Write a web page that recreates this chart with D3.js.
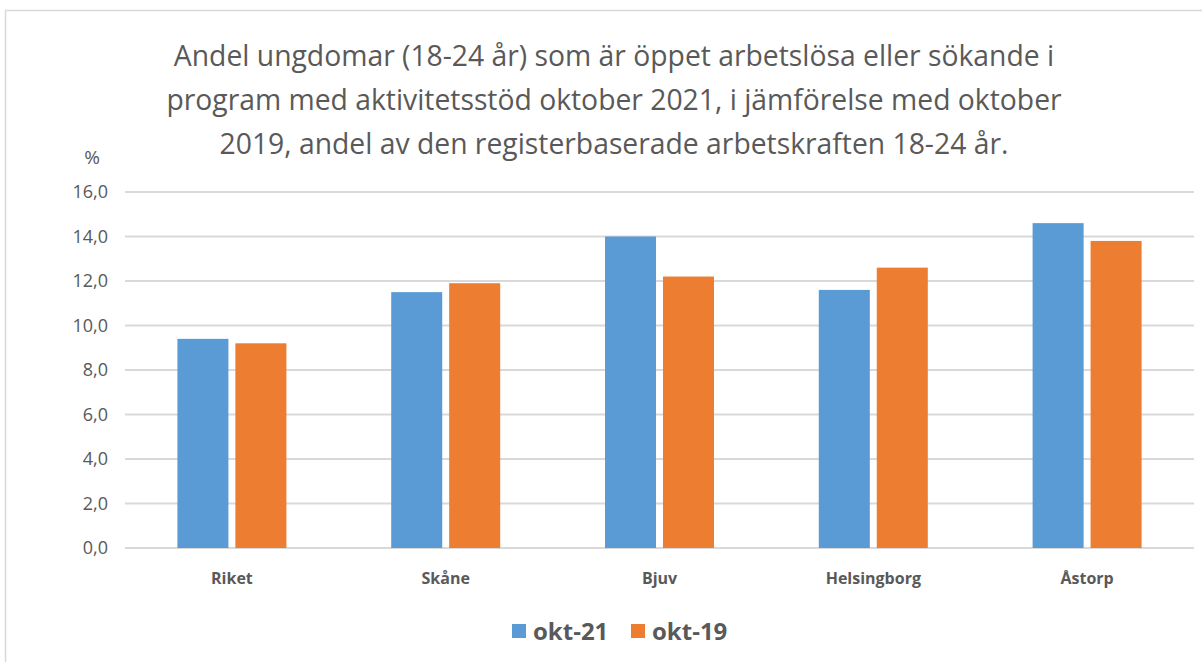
<!DOCTYPE html>
<html><head><meta charset="utf-8">
<script src="https://cdn.jsdelivr.net/npm/d3@7"></script>
<style>body{margin:0;background:#fff}svg{display:block}</style>
</head><body>
<script>
const categories = ["Riket","Skåne","Bjuv","Helsingborg","Åstorp"];
const seriesNames = ["okt-21","okt-19"];
const okt21 = [9.4, 11.5, 14.0, 11.6, 14.6];
const okt19 = [9.2, 11.9, 12.2, 12.6, 13.8];
const yTicks = [0,2,4,6,8,10,12,14,16];
const titleLines = ["Andel ungdomar (18-24 år) som är öppet arbetslösa eller sökande i",
  "program med aktivitetsstöd oktober 2021, i jämförelse med oktober",
  "2019, andel av den registerbaserade arbetskraften 18-24 år."];
const colors = ["#5b9bd5","#ed7d31"];

const W=1202,H=662;
const svg=d3.select("body").append("svg").attr("width",W).attr("height",H);
const font="'Open Sans',sans-serif";
svg.append("rect").attr("x",5.5).attr("y",10.5).attr("width",W+10).attr("height",H+10)
  .attr("fill","#fff").attr("stroke","#d9d9d9").attr("stroke-width",1.5);

const x0=d3.scaleBand().domain(categories).range([125,1194]);
const y=d3.scaleLinear().domain([0,16]).range([548,192]);
const x1=d3.scaleBand().domain(seriesNames).range([0,109]).paddingInner(0.12);

svg.append("g").selectAll("text").data(titleLines).join("text")
  .attr("x",614).attr("y",(d,i)=>66+i*44).attr("text-anchor","middle")
  .attr("font-family",font).attr("font-size",28.3).attr("fill","#595959").text(d=>d);

svg.append("text").attr("x",92).attr("y",164).attr("text-anchor","middle")
  .attr("font-family",font).attr("font-size",19).attr("fill","#595959").text("%");

const gy=svg.append("g");
gy.selectAll("line").data(yTicks).join("line")
  .attr("x1",125).attr("x2",1194).attr("y1",d=>y(d)).attr("y2",d=>y(d))
  .attr("stroke","#d9d9d9").attr("stroke-width",2);
gy.selectAll("text").data(yTicks).join("text")
  .attr("x",108).attr("y",d=>y(d)+6).attr("text-anchor","end")
  .attr("font-family",font).attr("font-size",18).attr("fill","#595959")
  .text(d=>d.toFixed(1).replace(".",","));

const data=categories.map((c,i)=>({c,vals:[{s:seriesNames[0],v:okt21[i]},{s:seriesNames[1],v:okt19[i]}]}));
const g=svg.append("g").selectAll("g").data(data).join("g")
  .attr("transform",d=>`translate(${x0(d.c)+x0.bandwidth()/2-54.5},0)`);
g.selectAll("rect").data(d=>d.vals).join("rect")
  .attr("x",d=>x1(d.s)).attr("width",x1.bandwidth())
  .attr("y",d=>y(d.v)).attr("height",d=>y(0)-y(d.v))
  .attr("fill",(d,i)=>colors[i]);

svg.append("g").selectAll("text").data(categories).join("text")
  .attr("x",d=>x0(d)+x0.bandwidth()/2).attr("y",584).attr("text-anchor","middle")
  .attr("font-family",font).attr("font-weight","bold").attr("font-size",16).attr("fill","#595959").text(d=>d);

const leg=svg.append("g");
const lx=[512,631];
seriesNames.forEach((s,i)=>{
  leg.append("rect").attr("x",lx[i]).attr("y",624).attr("width",14).attr("height",14).attr("fill",colors[i]);
  leg.append("text").attr("x",lx[i]+21).attr("y",640).attr("font-family",font).attr("font-weight","bold")
    .attr("font-size",24).attr("fill","#595959").text(s);
});
</script>
</body></html>
